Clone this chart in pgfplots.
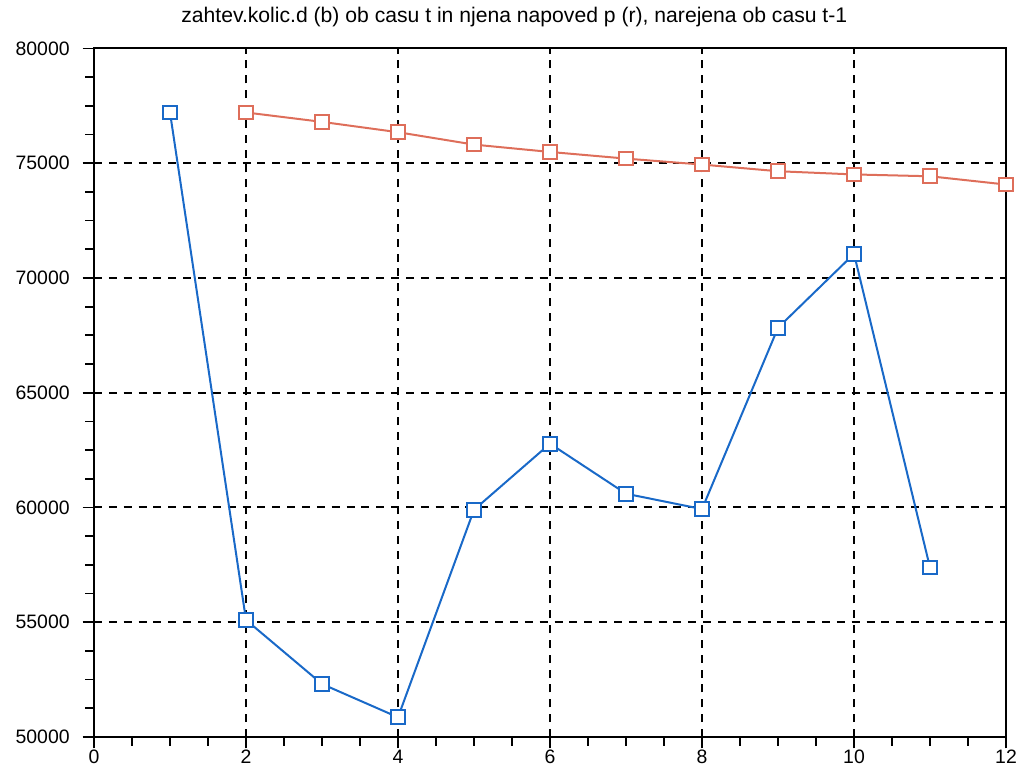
\documentclass[border=0pt]{standalone}
\usepackage{fontspec}
\setmainfont{Liberation Sans}
\usepackage{pgfplots}
\pgfplotsset{compat=1.18}
\definecolor{bl}{RGB}{25,105,200}
\definecolor{rd}{RGB}{222,110,90}
\begin{document}
\begin{tikzpicture}
\useasboundingbox (-32.9pt,-12.95pt) rectangle (324.45pt,257.95pt);
\begin{axis}[
  name=ax,
  at={(0,0)}, anchor=south west,
  scale only axis,
  width=319.2pt, height=241pt,
  xmin=0, xmax=12, ymin=50000, ymax=80000,
  xtick={0,2,...,12},
  ytick={50000,55000,...,80000},
  minor x tick num=3,
  minor y tick num=3,
  xtick pos=bottom, ytick pos=left,
  tick align=outside,
  major tick length=4pt, minor tick length=3pt,
  every tick/.style={black, line width=0.6pt},
  axis line style={line width=0.7pt},
  grid=major,
  major grid style={black, line width=0.7pt, dash pattern=on 2.8pt off 2.4pt},
  scaled y ticks=false,
  /pgf/number format/assume math mode=true,
  yticklabel={\pgfmathprintnumber[fixed,use comma=false,1000 sep={}]{\tick}},
  ticklabel style={font=\fontsize{6.8}{8}\selectfont},
  xticklabel style={yshift=3pt},
  yticklabel style={xshift=-1pt},
  title={zahtev.kolic.d (b) ob casu t in njena napoved p (r), narejena ob casu t-1},
  title style={font=\fontsize{7.4}{9}\selectfont, at={(0.5,1)}, anchor=south, yshift=-2pt, xshift=-12.5pt},
  clip=false,
]
\addplot[color=bl, line width=0.7pt, mark=square*, mark size=2.4pt,
  mark options={fill=white, draw=bl, line width=0.7pt}]
  coordinates {
  (1,77210) (2,55100) (3,52310) (4,50860) (5,59900) (6,62780)
  (7,60600) (8,59930) (9,67830) (10,71050) (11,57380)
  };
\addplot[color=rd, line width=0.7pt, mark=square*, mark size=2.4pt,
  mark options={fill=white, draw=rd, line width=0.7pt}]
  coordinates {
  (2,77210) (3,76800) (4,76350) (5,75810) (6,75490) (7,75200)
  (8,74940) (9,74650) (10,74510) (11,74430) (12,74070)
  };
\end{axis}
\end{tikzpicture}
\end{document}
